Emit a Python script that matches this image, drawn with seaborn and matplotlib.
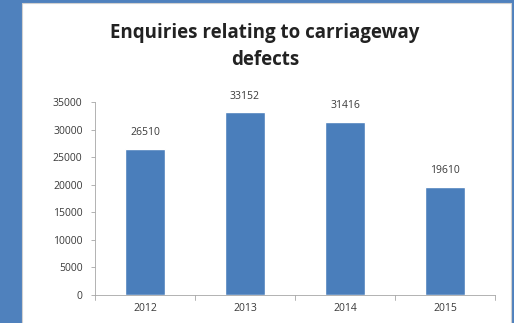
import matplotlib
matplotlib.use("Agg")
import matplotlib.pyplot as plt
from matplotlib.patches import Rectangle
import seaborn as sns
import pandas as pd

years = ["2012", "2013", "2014", "2015"]
enquiries = [26510, 33152, 31416, 19610]
y_ticks = [0, 5000, 10000, 15000, 20000, 25000, 30000, 35000]

title_lines = ["Enquiries relating to carriageway", "defects"]

bar_color = "#4a7ebb"
frame_color = "#4f81bd"
axis_color = "#a6a6a6"
text_color = "#3a3a3a"

sns.set_theme(style="white")
plt.rcParams["font.family"] = ["Open Sans", "DejaVu Sans"]

df = pd.DataFrame({"year": years, "count": enquiries})

fig = plt.figure(figsize=(5.14, 3.23), dpi=100)
fig.patch.set_facecolor(frame_color)

# white card behind the chart
card = Rectangle((22 / 514, -0.05), (511 - 22) / 514, 1 - 3 / 323 + 0.05,
                 transform=fig.transFigure, facecolor="white",
                 edgecolor="#d0d0d0", linewidth=0.8, zorder=-5)
fig.patches.append(card)

ax = fig.add_axes([95 / 514, 1 - 295 / 323, (495 - 95) / 514, (295 - 102) / 323])
ax.set_facecolor("none")
ax.set_zorder(5)

sns.barplot(data=df, x="year", y="count", color=bar_color, width=0.4,
            saturation=1, ax=ax, zorder=2)

for i, v in enumerate(enquiries):
    ax.text(i, v + 1900, str(v), ha="center", va="bottom",
            fontsize=7.5, color=text_color)

ax.set_ylim(0, 35000)
ax.set_xlim(-0.5, 3.5)
ax.set_yticks(y_ticks)
ax.set_yticklabels([str(t) for t in y_ticks], fontsize=7.5, color=text_color)
ax.tick_params(axis="x", labelsize=7.5, labelcolor=text_color, length=0, pad=6)
ax.tick_params(axis="y", length=3, width=0.6, color=axis_color, pad=6, left=True)

# category separator ticks along the x axis
for b in [-0.5, 0.5, 1.5, 2.5, 3.5]:
    ax.plot([b, b], [0, -900], color=axis_color, lw=0.6, clip_on=False)

for side in ["top", "right"]:
    ax.spines[side].set_visible(False)
for side in ["left", "bottom"]:
    ax.spines[side].set_color(axis_color)
    ax.spines[side].set_linewidth(0.6)

ax.set_xlabel("")
ax.set_ylabel("")

for line, y_px in zip(title_lines, [33, 60]):
    fig.text(265 / 514, 1 - y_px / 323, line, ha="center", va="center",
             fontsize=13.5, fontweight="bold", color="#222222", zorder=6)

fig.savefig("out.png", dpi=100, facecolor=fig.get_facecolor())
